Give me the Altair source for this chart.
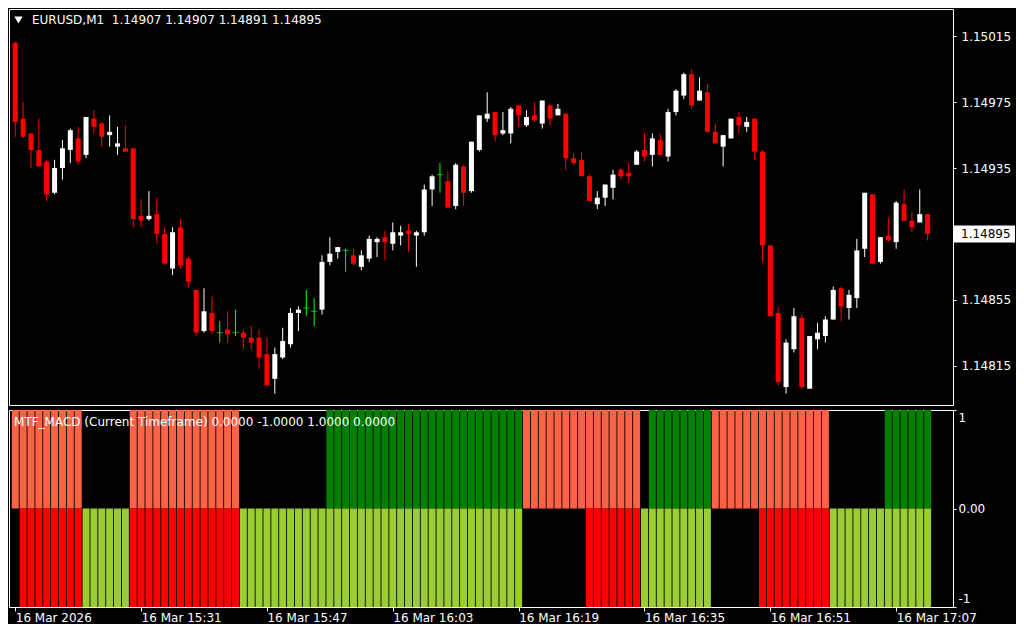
import json
import altair as alt
import pandas as pd

# ---------------- data (EURUSD, M1) ----------------
bars = list(range(117))

opens = [1.15011, 1.14965, 1.14956, 1.14946, 1.14939, 1.14920, 1.14935, 1.14946, 1.14953, 1.14943,
         1.14965, 1.14962, 1.14955, 1.14948, 1.14947, 1.14947, 1.14906, 1.14904, 1.14907, 1.14895,
         1.14874, 1.14899, 1.14880, 1.14861, 1.14836, 1.14847, 1.14835, 1.14837, 1.14835, 1.14835,
         1.14832, 1.14832, 1.14822, 1.14807, 1.14820, 1.14828, 1.14847, 1.14850, 1.14848, 1.14849,
         1.14878, 1.14884, 1.14885, 1.14882, 1.14875, 1.14880, 1.14890, 1.14893, 1.14889, 1.14894,
         1.14897, 1.14894, 1.14896, 1.14922, 1.14931, 1.14927, 1.14912, 1.14936, 1.14921, 1.14946,
         1.14965, 1.14969, 1.14956, 1.14956, 1.14973, 1.14961, 1.14967, 1.14962, 1.14973, 1.14967,
         1.14968, 1.14941, 1.14940, 1.14930, 1.14913, 1.14917, 1.14923, 1.14934, 1.14932, 1.14937,
         1.14946, 1.14943, 1.14952, 1.14942, 1.14969, 1.14979, 1.14992, 1.14976, 1.14981, 1.14957,
         1.14948, 1.14953, 1.14966, 1.14960, 1.14965, 1.14945, 1.14888, 1.14847, 1.14802, 1.14825,
         1.14844, 1.14801, 1.14831, 1.14833, 1.14843, 1.14862, 1.14850, 1.14856, 1.14886, 1.14919,
         1.14878, 1.14894, 1.14890, 1.14913, 1.14903, 1.14902, 1.14907]

highs = [1.15012, 1.14975, 1.14956, 1.14965, 1.14940, 1.14940, 1.14952, 1.14959, 1.14960, 1.14966,
         1.14970, 1.14963, 1.14967, 1.14960, 1.14961, 1.14947, 1.14916, 1.14921, 1.14917, 1.14899,
         1.14899, 1.14904, 1.14881, 1.14861, 1.14862, 1.14857, 1.14842, 1.14848, 1.14849, 1.14837,
         1.14839, 1.14837, 1.14832, 1.14826, 1.14838, 1.14850, 1.14851, 1.14861, 1.14856, 1.14882,
         1.14893, 1.14887, 1.14886, 1.14886, 1.14885, 1.14894, 1.14893, 1.14897, 1.14902, 1.14900,
         1.14901, 1.14897, 1.14925, 1.14931, 1.14938, 1.14933, 1.14938, 1.14937, 1.14951, 1.14967,
         1.14981, 1.14969, 1.14969, 1.14972, 1.14973, 1.14970, 1.14975, 1.14976, 1.14974, 1.14974,
         1.14968, 1.14944, 1.14945, 1.14931, 1.14921, 1.14925, 1.14934, 1.14935, 1.14938, 1.14946,
         1.14956, 1.14956, 1.14956, 1.14971, 1.14983, 1.14993, 1.14995, 1.14990, 1.14986, 1.14962,
         1.14955, 1.14965, 1.14969, 1.14966, 1.14965, 1.14946, 1.14888, 1.14851, 1.14831, 1.14850,
         1.14846, 1.14833, 1.14841, 1.14845, 1.14863, 1.14863, 1.14861, 1.14892, 1.14920, 1.14919,
         1.14893, 1.14905, 1.14915, 1.14922, 1.14908, 1.14922, 1.14907]

lows = [1.14954, 1.14953, 1.14935, 1.14936, 1.14915, 1.14919, 1.14928, 1.14938, 1.14937, 1.14941,
        1.14956, 1.14948, 1.14948, 1.14943, 1.14945, 1.14899, 1.14899, 1.14903, 1.14889, 1.14876,
        1.14870, 1.14874, 1.14862, 1.14833, 1.14835, 1.14834, 1.14829, 1.14829, 1.14833, 1.14825,
        1.14825, 1.14813, 1.14803, 1.14798, 1.14819, 1.14826, 1.14836, 1.14845, 1.14839, 1.14846,
        1.14876, 1.14880, 1.14872, 1.14876, 1.14873, 1.14878, 1.14881, 1.14879, 1.14885, 1.14888,
        1.14884, 1.14875, 1.14894, 1.14912, 1.14920, 1.14911, 1.14910, 1.14912, 1.14920, 1.14945,
        1.14963, 1.14951, 1.14955, 1.14950, 1.14960, 1.14960, 1.14963, 1.14959, 1.14961, 1.14967,
        1.14934, 1.14937, 1.14930, 1.14915, 1.14910, 1.14912, 1.14916, 1.14928, 1.14926, 1.14937,
        1.14939, 1.14936, 1.14943, 1.14939, 1.14967, 1.14977, 1.14971, 1.14976, 1.14957, 1.14950,
        1.14936, 1.14953, 1.14956, 1.14957, 1.14940, 1.14878, 1.14845, 1.14803, 1.14798, 1.14823,
        1.14801, 1.14801, 1.14825, 1.14829, 1.14843, 1.14842, 1.14843, 1.14850, 1.14881, 1.14877,
        1.14877, 1.14890, 1.14886, 1.14903, 1.14896, 1.14902, 1.14891]

closes = [1.14963, 1.14954, 1.14946, 1.14936, 1.14919, 1.14935, 1.14947, 1.14958, 1.14939, 1.14966,
          1.14960, 1.14954, 1.14957, 1.14950, 1.14945, 1.14904, 1.14903, 1.14906, 1.14895, 1.14877,
          1.14896, 1.14876, 1.14866, 1.14835, 1.14848, 1.14836, 1.14835, 1.14834, 1.14835, 1.14832,
          1.14829, 1.14820, 1.14803, 1.14822, 1.14830, 1.14847, 1.14849, 1.14850, 1.14848, 1.14878,
          1.14883, 1.14887, 1.14885, 1.14877, 1.14882, 1.14892, 1.14892, 1.14890, 1.14896, 1.14896,
          1.14895, 1.14896, 1.14922, 1.14930, 1.14931, 1.14911, 1.14937, 1.14920, 1.14951, 1.14967,
          1.14968, 1.14955, 1.14958, 1.14971, 1.14967, 1.14966, 1.14964, 1.14976, 1.14965, 1.14971,
          1.14941, 1.14938, 1.14930, 1.14915, 1.14917, 1.14925, 1.14931, 1.14930, 1.14930, 1.14945,
          1.14942, 1.14953, 1.14943, 1.14969, 1.14982, 1.14992, 1.14973, 1.14982, 1.14957, 1.14950,
          1.14955, 1.14965, 1.14961, 1.14963, 1.14945, 1.14888, 1.14845, 1.14805, 1.14829, 1.14845,
          1.14802, 1.14833, 1.14835, 1.14843, 1.14861, 1.14851, 1.14858, 1.14885, 1.14920, 1.14877,
          1.14893, 1.14891, 1.14914, 1.14903, 1.14899, 1.14907, 1.14895]

# MTF_MACD histogram states: (first bar, last bar, state)
# upper half: S = salmon (down), G = green (up), N = empty
upper_runs = [(0, 8, "S"), (9, 14, "N"), (15, 28, "S"), (29, 39, "N"), (40, 64, "G"),
              (65, 79, "S"), (80, 80, "N"), (81, 88, "G"), (89, 103, "S"), (104, 110, "N"),
              (111, 116, "G")]
# lower half: R = red, Y = yellow-green, N = empty
lower_runs = [(0, 0, "N"), (1, 8, "R"), (9, 14, "Y"), (15, 28, "R"), (29, 64, "Y"),
              (65, 72, "N"), (73, 79, "R"), (80, 88, "Y"), (89, 94, "N"), (95, 103, "R"),
              (104, 116, "Y")]

tick_bars = [0, 16, 32, 48, 64, 80, 96, 112]
tick_labels = ["16 Mar 2026", "16 Mar 15:31", "16 Mar 15:47", "16 Mar 16:03",
               "16 Mar 16:19", "16 Mar 16:35", "16 Mar 16:51", "16 Mar 17:07"]
price_ticks = [1.14815, 1.14855, 1.14895, 1.14935, 1.14975, 1.15015]
price_range = [1.147911, 1.150316]
bar_range = [-0.16, 118.59]

symbol = "EURUSD,M1"
indicator_label = "MTF_MACD (Current Timeframe) 0.0000 -1.0000 1.0000 0.0000"

# ---------------- layout / style ----------------
W = 944
H_TOP = 396
H_BOT = 197
FONT = "DejaVu Sans"
FS = 12

df = pd.DataFrame({"bar": bars, "open": opens, "high": highs, "low": lows, "close": closes})
df["dir"] = ["up" if c > o else ("down" if c < o else "flat") for o, c in zip(opens, closes)]

rows = []
for runs, val in ((upper_runs, 1), (lower_runs, -1)):
    for a, b, s in runs:
        if s == "N":
            continue
        for k in range(a, b + 1):
            rows.append({"bar": k, "value": val, "state": s})
ind = pd.DataFrame(rows)

xscale = alt.Scale(domain=bar_range, nice=False, zero=False)
yscale = alt.Scale(domain=price_range, nice=False, zero=False)
yaxis = alt.Axis(orient="right", values=price_ticks, format=".5f", tickSize=3,
                 labelPadding=5, labelAlign="left", labelFlush=False, labelOverlap=False)

x_top = alt.X("bar:Q", scale=xscale, axis=None, title=None)


def ycol(field):
    return alt.Y(field, scale=yscale, axis=yaxis, title=None)


candle_color = alt.Color("dir:N", legend=None,
                         scale=alt.Scale(domain=["up", "down", "flat"],
                                         range=["#FFFFFF", "#FF0000", "#00FF00"]))

base = alt.Chart(df)
wicks = base.mark_rule(strokeWidth=1, clip=True).encode(
    x=x_top, y=ycol("low:Q"), y2="high:Q", color=candle_color)
bodies = base.transform_filter("datum.dir != 'flat'").mark_bar(size=5, clip=True).encode(
    x=x_top, y=ycol("open:Q"), y2="close:Q", color=candle_color)
dojis = base.transform_filter("datum.dir == 'flat'").mark_tick(
    orient="horizontal", size=6, thickness=1, clip=True).encode(
    x=x_top, y=ycol("open:Q"), color=candle_color)

one = pd.DataFrame({"a": [0]})
header_text = f"{symbol}\u00a0 {opens[-1]:.5f} {highs[-1]:.5f} {lows[-1]:.5f} {closes[-1]:.5f}"
tri = alt.Chart(one).mark_point(shape="triangle-down", filled=True, size=70,
                                color="#FFFFFF", opacity=1).encode(
    x=alt.value(9.5), y=alt.value(11))
header = alt.Chart(one).mark_text(align="left", baseline="middle", font=FONT, fontSize=FS,
                                  color="#FFFFFF").encode(
    x=alt.value(23), y=alt.value(11), text=alt.value(header_text))

last_box = alt.Chart(one).mark_point(shape="M-1,-0.28H1V0.28H-1Z", size=61 * 61, filled=True,
                                     color="#FFFFFF", opacity=1).encode(
    x=alt.value(W + 31.5), y=alt.Y(datum=closes[-1], scale=yscale, axis=yaxis, title=None))
last_txt = alt.Chart(one).mark_text(align="left", baseline="middle", font=FONT, fontSize=FS,
                                    color="#000000").encode(
    x=alt.value(W + 8), y=alt.Y(datum=closes[-1], scale=yscale, axis=yaxis, title=None),
    text=alt.value(f"{closes[-1]:.5f}"))

top = alt.layer(wicks, bodies, dojis, tri, header, last_box, last_txt).properties(
    width=W, height=H_TOP)

# ---------------- indicator panel ----------------
label_expr = json.dumps(tick_labels) + "[floor(datum.value / 16)]"
x_bot = alt.X("bar:Q", scale=xscale, title=None,
              axis=alt.Axis(values=tick_bars, labelExpr=label_expr, labelAlign="left",
                            labelFlush=False, labelOverlap=False, tickSize=4, labelPadding=1))

hist = alt.Chart(ind).mark_bar(size=7, clip=True).encode(
    x=x_bot,
    y=alt.Y("value:Q", scale=alt.Scale(domain=[-1, 1], nice=False), title=None,
            axis=alt.Axis(orient="right", values=[-1, 0, 1], tickSize=3, labelPadding=2,
                          labelAlign="left", labelFlush=True, labelFlushOffset=-2,
                          labelExpr="datum.value == 0 ? '0.00' : (datum.value > 0 ? '1' : '-1')")),
    y2=alt.Y2(datum=0),
    color=alt.Color("state:N", legend=None,
                    scale=alt.Scale(domain=["S", "G", "R", "Y"],
                                    range=["#FF6347", "#008000", "#FF0000", "#9ACD32"])),
)
ind_label = alt.Chart(one).mark_text(align="left", baseline="middle", font=FONT, fontSize=FS,
                                     color="#FFFFFF").encode(
    x=alt.value(5), y=alt.value(12), text=alt.value(indicator_label))

bottom = alt.layer(hist, ind_label).properties(width=W, height=H_BOT)

chart = alt.vconcat(top, bottom, spacing=3).resolve_scale(
    color="independent", y="independent"
).properties(
    padding=0, background="#000000"
).configure_view(
    stroke="#FFFFFF", strokeWidth=1
).configure_axis(
    labelFont=FONT, labelFontSize=FS, labelColor="#FFFFFF", tickColor="#FFFFFF",
    tickWidth=1, domain=False, grid=False
)

chart.save("out.html", embed_options={"renderer": "svg", "actions": False})
